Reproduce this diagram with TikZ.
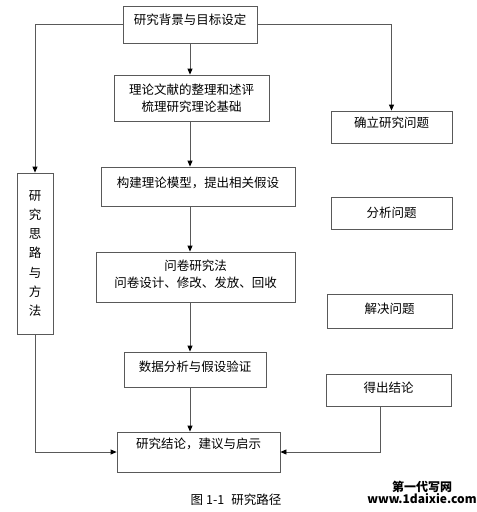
\documentclass[tikz,border=0pt]{standalone}
\usepackage{fontspec}
\setmainfont{Noto Sans CJK SC}
\usetikzlibrary{arrows.meta}

\begin{document}
\begin{tikzpicture}
[x=1pt,y=-1pt,
 box/.style={draw=black!65,line width=0.8pt,inner sep=0pt,align=center,font=\fontsize{12.5pt}{17pt}\selectfont},
 link/.style={draw=black!65,line width=0.8pt,-{Triangle[length=6pt,width=5pt,black]}}]
\useasboundingbox (0,0) rectangle (477,512);

\node[box,minimum width=134pt,minimum height=37pt,text depth=10.5pt] (bg) at (190,24.5) {研究背景与目标设定};
\node[box,minimum width=155pt,minimum height=46pt] (wx) at (191.5,98) {理论文献的整理和述评\\梳理研究理论基础};
\node[box,minimum width=194pt,minimum height=39pt,text depth=8.5pt] (mx) at (198,186.5) {构建理论模型，提出相关假设};
\node[box,minimum width=199pt,minimum height=50pt,text depth=6.5pt] (wj) at (195.5,277) {问卷研究法\\问卷设计、修改、发放、回收};
\node[box,minimum width=142pt,minimum height=35pt,text depth=6.5pt] (sj) at (195,369.5) {数据分析与假设验证};
\node[box,minimum width=163pt,minimum height=40pt,text depth=17.5pt] (jl) at (198.5,452) {研究结论，建议与启示};

\node[box,minimum width=36pt,minimum height=161pt,font=\fontsize{12.5pt}{19.2pt}\selectfont] (sl) at (35,253.5) {研\\究\\思\\路\\与\\方\\法};

\node[box,minimum width=121pt,minimum height=32pt,text depth=9.5pt] (wt) at (391.5,127) {确立研究问题};
\node[box,minimum width=121pt,minimum height=32pt] (fx) at (391.5,213) {分析问题};
\node[box,minimum width=125pt,minimum height=34pt,text depth=5.5pt] (jj) at (389.5,311) {解决问题};
\node[box,minimum width=125pt,minimum height=32pt,text depth=5.5pt] (dc) at (388.5,390) {得出结论};

\node[font=\fontsize{12.5pt}{15pt}\selectfont] (tu) at (236,500) {图\hspace{3pt}1-1\hspace{7pt}研究路径};
\node[align=center,inner sep=0pt,font=\fontsize{12pt}{12pt}\selectfont\bfseries] (wm) at (422,492) {第一代写网\\www.1daixie.com};

\draw[link] (bg.west) -| (sl.north);
\draw[link] (bg.east) -| (wt.north);
\draw[link] (bg.south) -- (bg.south |- wx.north);
\draw[link] (wx.south -| bg.south) -- (mx.north -| bg.south);
\draw[link] (mx.south -| bg.south) -- (wj.north -| bg.south);
\draw[link] (wj.south -| bg.south) -- (sj.north -| bg.south);
\draw[link] (sj.south -| bg.south) -- (jl.north -| bg.south);
\draw[link] (sl.south) |- (jl.west);
\draw[link] ([xshift=-8pt]dc.south) |- (jl.east);
\end{tikzpicture}
\end{document}
